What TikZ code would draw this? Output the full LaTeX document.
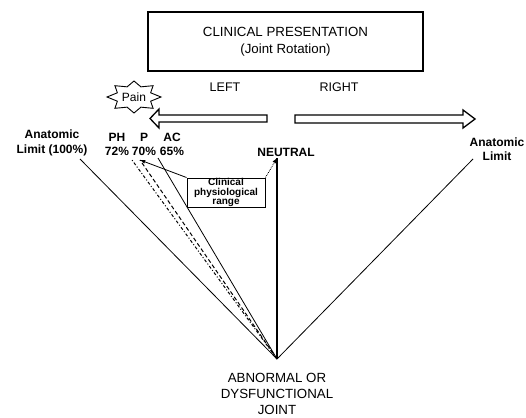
\documentclass[tikz,border=0pt]{standalone}
\usepackage{fontspec}
\setmainfont{Liberation Sans}
\usetikzlibrary{arrows}

\begin{document}
\begin{tikzpicture}[x=1pt,y=-1pt,
    heading/.style={font=\fontsize{13.3}{17}\selectfont, align=center, inner sep=0pt},
    sidelbl/.style={font=\fontsize{12.5}{15}\selectfont, inner sep=0pt},
    limitlbl/.style={font=\fontsize{12}{14.5}\selectfont\bfseries, align=center, inner sep=0pt},
    ray/.style={line width=0.8pt},
    blockarrow/.style={draw, line width=1.3pt, line join=miter}]
    \useasboundingbox (0,0) rectangle (526,417);

    % Title box
    \node[draw, line width=1.4pt, minimum width=275pt, minimum height=59pt, heading] (title) at (285.5,41.5)
        {CLINICAL PRESENTATION\\(Joint Rotation)};
    \node[sidelbl] (left) at (225,87.5) {LEFT};
    \node[sidelbl] (right) at (339,87) {RIGHT};

    % Rotation arrows
    \draw[blockarrow] (267,115) -- (159,115) -- (159,109) -- (150,118.5) -- (159,128) -- (159,122) -- (267,122) -- cycle;
    \draw[blockarrow] (295,115) -- (463,115) -- (463,110) -- (475,119) -- (463,128) -- (463,123) -- (295,123) -- cycle;

    % Pain burst
    \def\cx{134}
    \def\cy{97}
    \draw[line width=0.9pt, line join=miter] ({\cx+27},\cy)
        \foreach \a in {22.5,67.5,...,337.5} {
            -- ({\cx+18*cos(\a)},{\cy+11*sin(\a)}) -- ({\cx+27*cos(\a+22.5)},{\cy+16*sin(\a+22.5)})
        } -- cycle;
    \node[font=\fontsize{12}{14}\selectfont, inner sep=0pt] (pain) at (\cx,\cy) {Pain};

    % Labels
    \node[limitlbl] (anatL) at (52,143) {Anatomic\\Limit (100\%)};
    \node[limitlbl] (anatR) at (497,149) {Anatomic\\Limit};
    \node[limitlbl] (phlbl) at (117,144.5) {PH\\72\%};
    \node[limitlbl] (plbl) at (144,144.5) {P\\70\%};
    \node[limitlbl] (aclbl) at (172,144.5) {AC\\65\%};
    \node[limitlbl] (neutlbl) at (286,152) {NEUTRAL};
    \node[heading, font=\fontsize{13.3}{16}\selectfont] (jointlbl) at (277,393.5)
        {ABNORMAL OR\\DYSFUNCTIONAL\\JOINT};

    % End points of the rays
    \coordinate (joint) at (277,359);
    \coordinate (limL) at (80,159);
    \coordinate (limR) at (473,159);
    \coordinate (neutral) at (277,158);
    \coordinate (ac) at (158,158);
    \coordinate (p) at (140,160);
    \coordinate (ph) at (132,160);

    % Rays from the joint
    \foreach \e in {limL,limR,ac} {
        \draw[ray] (joint) -- (\e);
    }
    \draw[line width=1.4pt] (joint) -- (neutral);
    \draw[line width=1pt, dash pattern=on 4pt off 2.5pt] (joint) -- (p);
    \draw[line width=1pt, dash pattern=on 3pt off 2pt on 1pt off 2pt] (joint) -- (ph);

    % Clinical range box
    \node[draw, line width=1pt, minimum width=78pt, minimum height=29pt, inner sep=0pt, fill=white,
          font=\fontsize{10}{9.5}\selectfont\bfseries, align=center] (range) at (226,192.5)
        {Clinical\\physiological\\range};
    \draw[-latex, ray] (range.north west) -- (p);
    \draw[-latex, ray, densely dotted] (range.north east) -- (neutral);
\end{tikzpicture}
\end{document}
